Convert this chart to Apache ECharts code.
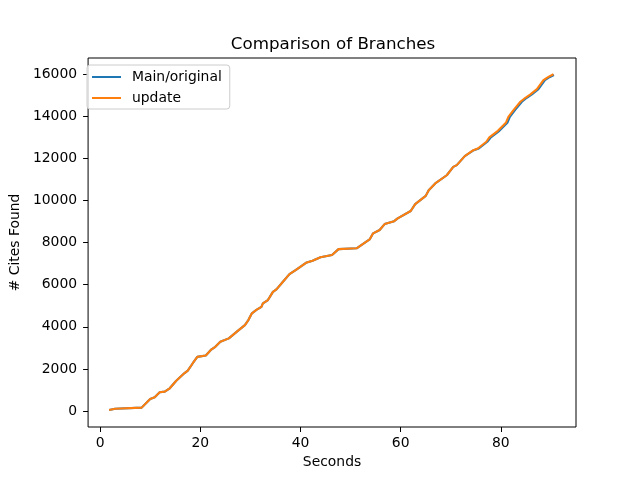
<!DOCTYPE html>
<html>
<head>
<meta charset="utf-8">
<script src="https://cdn.jsdelivr.net/npm/echarts@6/dist/echarts.min.js"></script>
<style>
  html, body { margin: 0; padding: 0; background: #fff; }
  #chart { width: 640px; height: 480px; }
</style>
</head>
<body>
<div id="chart"></div>
<script>
// seconds / cites found
var updateSec = [1.8, 3.0, 8.3, 9.3, 10.0, 10.9, 11.9, 12.9, 13.9, 15.2, 16.8, 17.5, 18.5, 19.4, 21.1, 22.1,
  23.0, 24.0, 25.7, 27.3, 28.9, 29.6, 30.3, 31.2, 32.2, 32.5, 33.5, 34.5, 35.2, 36.5, 37.8, 39.1, 41.1, 42.4,
  44.0, 46.3, 47.6, 51.2, 53.8, 54.5, 55.8, 56.8, 58.7, 59.4, 62.0, 62.9, 65.0, 65.6, 66.9, 69.2, 70.5, 71.2,
  72.8, 74.5, 75.4, 77.1, 77.7, 79.4, 81.0, 81.5, 82.6, 83.9, 84.9, 85.9, 87.2, 88.5, 89.5, 90.5];
var updateCites = [50, 110, 160, 400, 570, 650, 890, 920, 1080, 1440, 1790, 1920, 2270, 2570, 2640, 2900,
  3050, 3290, 3450, 3770, 4080, 4320, 4640, 4800, 4950, 5110, 5270, 5660, 5780, 6140, 6500, 6700, 7040, 7140,
  7300, 7410, 7690, 7730, 8150, 8440, 8600, 8880, 9020, 9150, 9500, 9830, 10220, 10490, 10810, 11200, 11600, 11680,
  12110, 12390, 12470, 12790, 13000, 13310, 13690, 13970, 14320, 14690, 14880, 15040, 15290, 15720, 15870, 16000];

var mainSec = [1.8, 3.0, 8.3, 9.3, 10.0, 10.9, 11.9, 12.9, 13.9, 15.2, 16.8, 17.5, 18.5, 19.4, 21.1, 22.1,
  23.0, 24.0, 25.7, 27.3, 28.9, 29.6, 30.3, 31.2, 32.2, 32.5, 33.5, 34.5, 35.2, 36.5, 37.8, 39.1, 41.1, 42.4,
  44.0, 46.3, 47.6, 51.2, 53.8, 54.5, 55.8, 56.8, 58.7, 59.4, 62.0, 62.9, 65.0, 65.6, 66.9, 69.2, 70.5, 71.2,
  72.8, 74.6, 75.6, 77.3, 78.0, 79.7, 81.3, 81.8, 82.9, 84.2, 85.2, 86.2, 87.5, 88.8, 89.8, 90.6];
var mainCites = [50, 110, 160, 400, 570, 650, 890, 920, 1080, 1440, 1790, 1920, 2270, 2570, 2640, 2900,
  3050, 3290, 3450, 3770, 4080, 4320, 4640, 4800, 4950, 5110, 5270, 5660, 5780, 6140, 6500, 6700, 7040, 7140,
  7300, 7410, 7690, 7730, 8150, 8440, 8600, 8880, 9020, 9150, 9500, 9830, 10220, 10490, 10810, 11200, 11600, 11680,
  12110, 12390, 12470, 12790, 13000, 13310, 13690, 13970, 14320, 14690, 14880, 15040, 15290, 15720, 15870, 15960];

var xTicks = [0, 20, 40, 60, 80];
var yTicks = [0, 2000, 4000, 6000, 8000, 10000, 12000, 14000, 16000];

function pairs(xs, ys) {
  return xs.map(function (x, i) { return [x, ys[i]]; });
}

var font = 'DejaVu Sans';
var chart = echarts.init(document.getElementById('chart'), null, { renderer: 'canvas' });

chart.setOption({
  animation: false,
  backgroundColor: '#fff',
  title: {
    text: 'Comparison of Branches',
    left: 328, top: 31, textAlign: 'center',
    textStyle: { fontFamily: font, fontSize: 16.7, fontWeight: 'normal', color: '#000' }
  },
  legend: {
    orient: 'vertical',
    left: 87, top: 65,
    padding: [5, 8, 4, 5],
    icon: 'rect',
    itemWidth: 29, itemHeight: 2, itemGap: 7,
    backgroundColor: 'rgba(255,255,255,0.8)',
    borderColor: '#cccccc', borderWidth: 1, borderRadius: 3,
    textStyle: { fontFamily: font, fontSize: 13.9, color: '#000', padding: [0, 0, 0, 6] },
    data: ['Main/original', 'update']
  },
  grid: {
    left: 80.7, right: 64, top: 58, bottom: 53,
    show: true, borderColor: '#000', borderWidth: 1, backgroundColor: 'transparent'
  },
  xAxis: {
    type: 'value', min: -2.4, max: 95,
    name: 'Seconds', nameLocation: 'middle', nameGap: 28,
    nameTextStyle: { fontFamily: font, fontSize: 13.9, color: '#000' },
    axisLine: { show: false, onZero: false },
    splitLine: { show: false },
    axisTick: { show: true, length: 5, customValues: xTicks, lineStyle: { color: '#000' } },
    axisLabel: { customValues: xTicks, margin: 9, fontFamily: font, fontSize: 13.9, color: '#000',
      formatter: function (v) { return String(v); } }
  },
  yAxis: {
    type: 'value', min: -760, max: 16770,
    name: '# Cites Found', nameLocation: 'middle', nameGap: 60,
    nameTextStyle: { fontFamily: font, fontSize: 13.9, color: '#000' },
    axisLine: { show: false, onZero: false },
    splitLine: { show: false },
    axisTick: { show: true, length: 5, customValues: yTicks, lineStyle: { color: '#000' } },
    axisLabel: { customValues: yTicks, margin: 11, fontFamily: font, fontSize: 13.9, color: '#000',
      formatter: function (v) { return String(v); } }
  },
  series: [
    {
      name: 'Main/original', type: 'line', symbol: 'none',
      data: pairs(mainSec, mainCites),
      lineStyle: { color: '#1f77b4', width: 2.1 },
      itemStyle: { color: '#1f77b4' }
    },
    {
      name: 'update', type: 'line', symbol: 'none',
      data: pairs(updateSec, updateCites),
      lineStyle: { color: '#ff7f0e', width: 2.1 },
      itemStyle: { color: '#ff7f0e' }
    }
  ]
});
</script>
</body>
</html>
